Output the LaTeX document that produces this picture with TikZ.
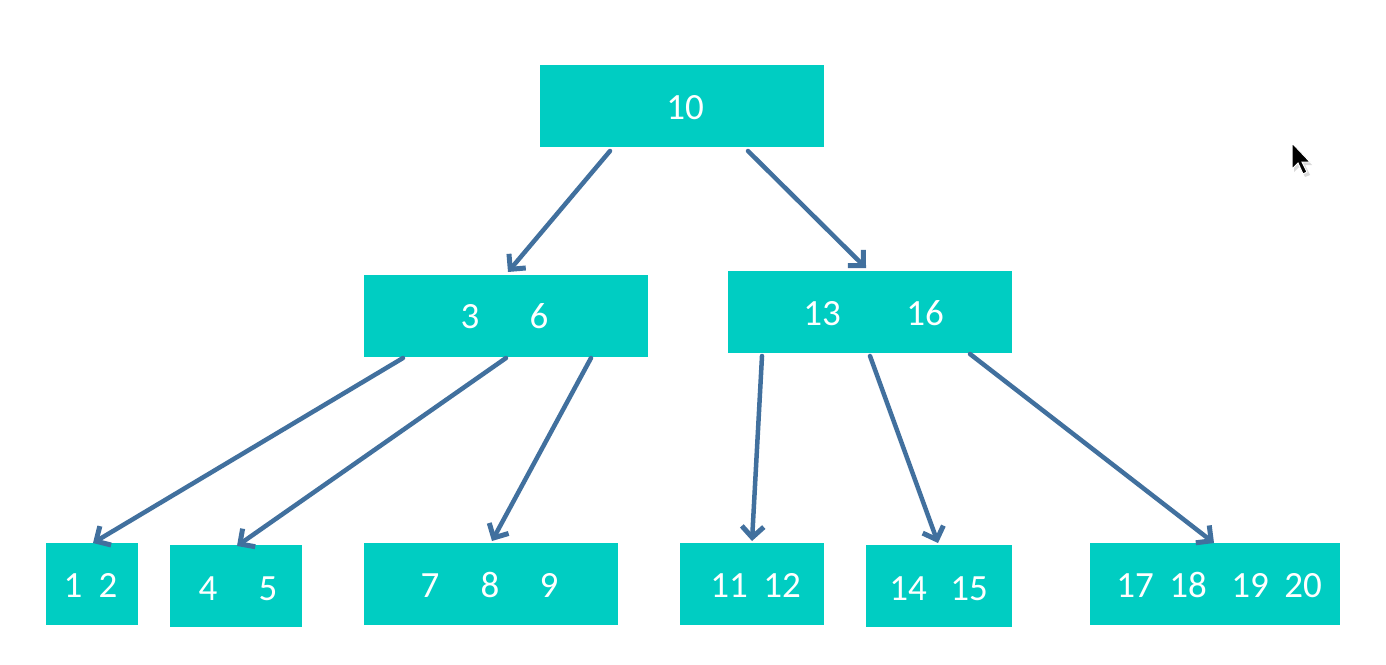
\documentclass[tikz,border=0pt]{standalone}
\usepackage{fontspec}
\setmainfont{Carlito}
\usetikzlibrary{arrows.meta}
\definecolor{boxc}{HTML}{00CDC2}
\definecolor{arrc}{HTML}{41709E}
\begin{document}
\begin{tikzpicture}[x=1pt,y=-1pt,
  box/.style={fill=boxc,draw=none,inner sep=0pt,anchor=north west},
  num/.style={text=white,anchor=base,inner sep=0pt,font=\fontsize{37}{40}\selectfont},
  link/.style={draw=arrc,line width=4.5pt,line cap=round,
    -{Straight Barb[length=11pt,width=22pt,line width=5pt]}}]
\useasboundingbox (0,0) rectangle (1386,664);
\fill[white] (0,0) rectangle (1386,664);
% boxes
\node[box,minimum width=284pt,minimum height=82pt] (root) at (540,65) {};
\node[box,minimum width=284pt,minimum height=82pt] (ml) at (364,275) {};
\node[box,minimum width=284pt,minimum height=82pt] (mr) at (728,271) {};
\node[box,minimum width=92pt,minimum height=82pt] (l1) at (46,543) {};
\node[box,minimum width=132pt,minimum height=82pt] (l2) at (170,545) {};
\node[box,minimum width=254pt,minimum height=82pt] (l3) at (364,543) {};
\node[box,minimum width=144pt,minimum height=82pt] (l4) at (680,543) {};
\node[box,minimum width=146pt,minimum height=82pt] (l5) at (866,545) {};
\node[box,minimum width=250pt,minimum height=82pt] (l6) at (1090,543) {};
% numbers
\node[num] (t10) at (685,119) {10};
\node[num] (t3) at (470,328) {3};
\node[num] (t6) at (539,328) {6};
\node[num] (t13) at (822,325) {13};
\node[num] (t16) at (925,325) {16};
\node[num] (t1) at (73,597) {1};
\node[num] (t2) at (108,597) {2};
\node[num] (t4) at (208,600) {4};
\node[num] (t5) at (268,600) {5};
\node[num] (t7) at (430,597) {7};
\node[num] (t8) at (490,597) {8};
\node[num] (t9) at (549,597) {9};
\node[num] (t11) at (729,597) {11};
\node[num] (t12) at (782,597) {12};
\node[num] (t14) at (908,600) {14};
\node[num] (t15) at (969,600) {15};
\node[num] (t17) at (1135,597) {17};
\node[num] (t18) at (1188,597) {18};
\node[num] (t19) at (1250,597) {19};
\node[num] (t20) at (1303,597) {20};
% arrow end points
\coordinate (a1s) at (610,151); \coordinate (a1e) at (508,272);
\coordinate (a2s) at (748,151); \coordinate (a2e) at (866,268);
\coordinate (a3s) at (403,358); \coordinate (a3e) at (93,543);
\coordinate (a4s) at (506,358); \coordinate (a4e) at (237,546);
\coordinate (a5s) at (591,358); \coordinate (a5e) at (492,541);
\coordinate (a6s) at (762,356); \coordinate (a6e) at (752,541);
\coordinate (a7s) at (870,356); \coordinate (a7e) at (938,543);
\coordinate (a8s) at (970,354); \coordinate (a8e) at (1214,543);
\foreach \i in {1,...,8} \draw[link] (a\i s) -- (a\i e);
% mouse cursor
\fill[black!15] (1294,145) -- (1294,172) -- (1300,166) -- (1305,177) -- (1310,175) -- (1305,165) -- (1312,165) -- cycle;
\filldraw[fill=black,draw=white,line width=1pt] (1292,143) -- (1292,169) -- (1298,163) -- (1303,174) -- (1307,172) -- (1302,162) -- (1310,162) -- cycle;
\end{tikzpicture}
\end{document}
